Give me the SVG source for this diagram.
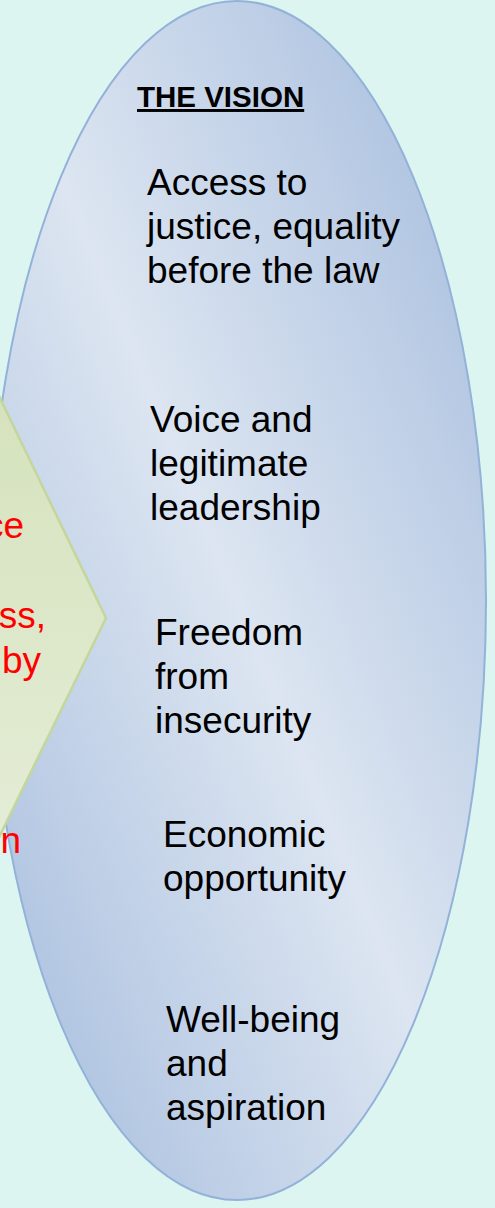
<svg xmlns="http://www.w3.org/2000/svg" width="495" height="1208" viewBox="0 0 495 1208">
  <defs>
    <linearGradient id="blueGrad" x1="1" y1="0" x2="0" y2="1">
      <stop offset="0" stop-color="#a2badc"/>
      <stop offset="0.5" stop-color="#dce5f1"/>
      <stop offset="1" stop-color="#a2badc"/>
    </linearGradient>
    <linearGradient id="greenGrad" x1="0" y1="0" x2="0" y2="1">
      <stop offset="0" stop-color="#d3e1b9"/>
      <stop offset="1" stop-color="#e6eed9"/>
    </linearGradient>
    <style>
      .t { font-family: "Liberation Sans", Arial, sans-serif; font-size: 37px; fill: #000; }
      .red { font-family: "Liberation Sans", Arial, sans-serif; font-size: 37px; fill: #ff0000; }
      .head { font-family: "Liberation Sans", Arial, sans-serif; font-size: 29.5px; font-weight: bold; fill: #000; text-decoration: underline; }
    </style>
  </defs>
  <rect x="0" y="0" width="495" height="1208" fill="#ddf5f0"/>

  <g id="vision">
    <ellipse cx="237" cy="600.5" rx="249" ry="599.5" fill="url(#blueGrad)" stroke="#93b2d9" stroke-width="2"/>
    <text class="head" x="137" y="107">THE VISION</text>
  </g>

  <g id="chevron">
    <polygon points="-100,336 -30,336 106,618 -30,897 -100,897" fill="url(#greenGrad)" stroke="#c3d69b" stroke-width="2.5"/>
    <text class="red" x="24" y="538" text-anchor="end">ce</text>
    <text class="red" x="46" y="628" text-anchor="end">ss,</text>
    <text class="red" x="41" y="673" text-anchor="end">by</text>
    <text class="red" x="21" y="853" text-anchor="end">n</text>
  </g>

  <g id="access">
    <text class="t" x="147" y="195">Access to</text>
    <text class="t" x="147" y="239">justice, equality</text>
    <text class="t" x="147" y="283">before the law</text>
  </g>
  <g id="voice">
    <text class="t" x="150" y="432">Voice and</text>
    <text class="t" x="150" y="476">legitimate</text>
    <text class="t" x="150" y="520">leadership</text>
  </g>
  <g id="freedom">
    <text class="t" x="155" y="645">Freedom</text>
    <text class="t" x="155" y="689">from</text>
    <text class="t" x="155" y="733">insecurity</text>
  </g>
  <g id="economic">
    <text class="t" x="163" y="847">Economic</text>
    <text class="t" x="163" y="891">opportunity</text>
  </g>
  <g id="wellbeing">
    <text class="t" x="166" y="1032">Well-being</text>
    <text class="t" x="166" y="1076">and</text>
    <text class="t" x="166" y="1120">aspiration</text>
  </g>
  <g id="connectors"/>
</svg>
